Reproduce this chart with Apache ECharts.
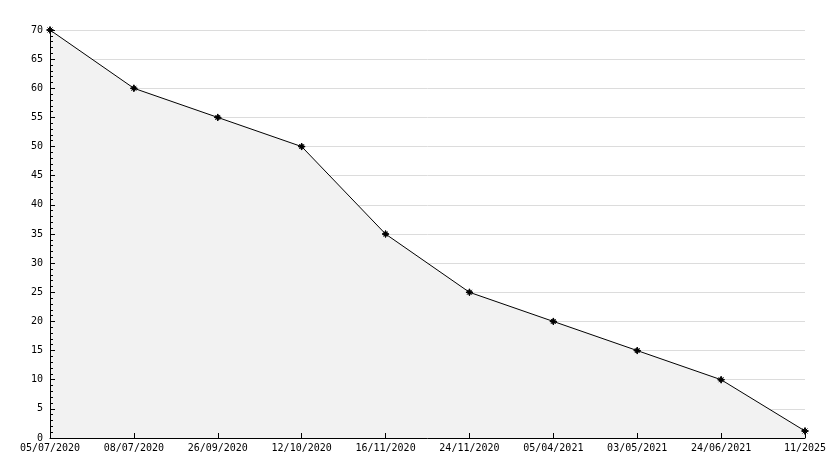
<!DOCTYPE html>
<html><head><meta charset="utf-8">
<script src="https://cdn.jsdelivr.net/npm/echarts@6/dist/echarts.min.js"></script>
<style>html,body{margin:0;padding:0;background:#fff}#c{width:834px;height:468px}</style>
</head><body><div id="c"></div>
<script>
const categories = ['05/07/2020','08/07/2020','26/09/2020','12/10/2020','16/11/2020','24/11/2020','05/04/2021','03/05/2021','24/06/2021','11/2025'];
const values = [70, 60, 55, 50, 35, 25, 20, 15, 10, 1.2];
const yTicks = {min: 0, max: 70, interval: 5};
const font = 'DejaVu Sans Mono';
const chart = echarts.init(document.getElementById('c'), null, {renderer: 'canvas'});
chart.setOption({
  animation: false,
  backgroundColor: '#fff',
  grid: {left: 50, right: 29, top: 30, bottom: 30, containLabel: false},
  xAxis: [{
    type: 'category', data: categories, boundaryGap: false, z: 10,
    axisLine: {lineStyle: {color: '#000', width: 1}},
    axisTick: {inside: true, length: 5, lineStyle: {color: '#000'}, alignWithLabel: true},
    axisLabel: {color: '#000', fontFamily: font, fontSize: 10, margin: 5, interval: 0},
    splitLine: {show: false}
  }],
  yAxis: [{
    type: 'value', min: yTicks.min, max: yTicks.max, interval: yTicks.interval, z: 10,
    axisLine: {show: true, lineStyle: {color: '#000', width: 1}},
    axisTick: {show: true, inside: true, length: 5, lineStyle: {color: '#000'}},
    minorTick: {show: true, splitNumber: 5, length: 3, lineStyle: {color: '#000'}},
    axisLabel: {color: '#000', fontFamily: font, fontSize: 10, margin: 7},
    splitLine: {show: false}
  }, {
    type: 'value', min: yTicks.min, max: yTicks.max, interval: yTicks.interval, z: 0,
    position: 'left',
    axisLine: {show: false}, axisTick: {show: false}, axisLabel: {show: false},
    splitLine: {show: true, lineStyle: {color: '#dcdcdc', width: 1}}
  }],
  series: [{
    type: 'line', data: values,
    symbol: 'path://M0,-5 L1.5,-1.5 L5,0 L1.5,1.5 L0,5 L-1.5,1.5 L-5,0 L-1.5,-1.5 Z M-3.5,-3.5 L3.5,3.5 M-3.5,3.5 L3.5,-3.5',
    symbolSize: 7, showAllSymbol: true,
    itemStyle: {color: '#000', borderColor: '#000', borderWidth: 1},
    lineStyle: {color: '#000', width: 1},
    areaStyle: {color: '#f2f2f2', opacity: 1},
    z: 3
  }]
});
</script></body></html>
